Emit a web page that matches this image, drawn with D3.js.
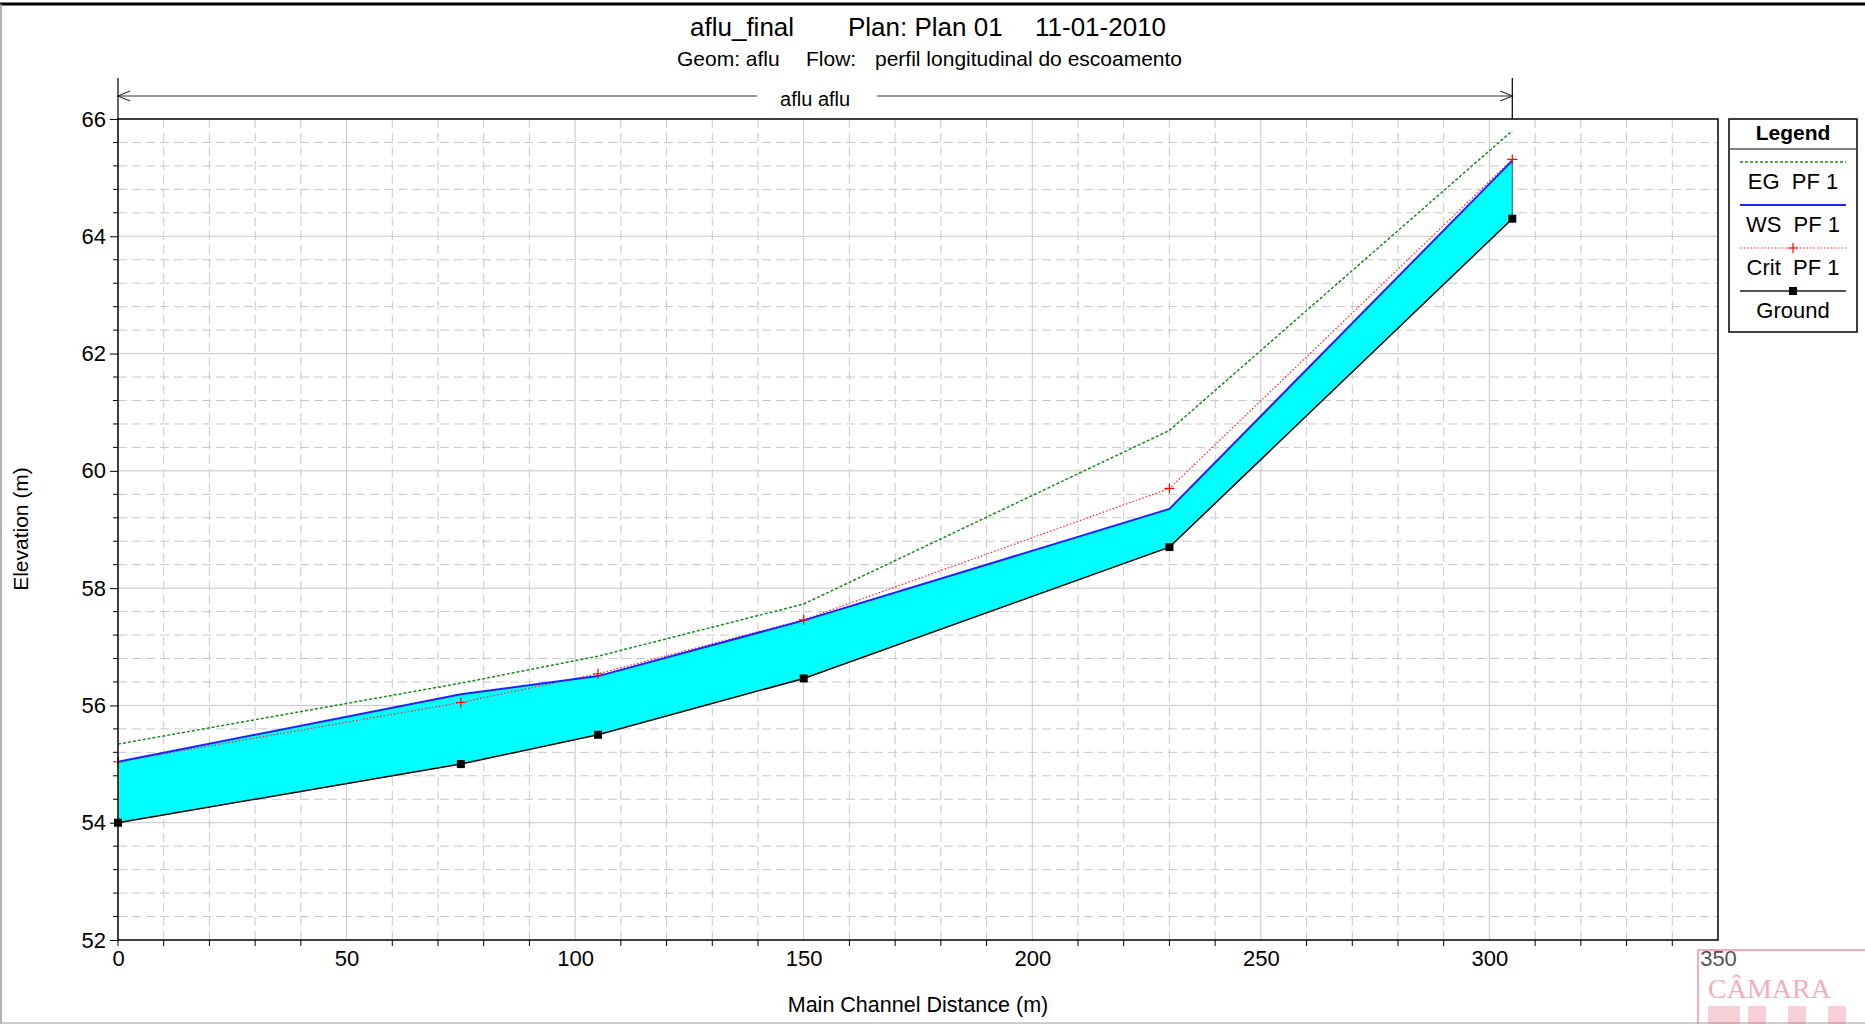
<!DOCTYPE html>
<html>
<head>
<meta charset="utf-8">
<script src="https://cdn.jsdelivr.net/npm/d3@7"></script>
<style>
  html, body { margin: 0; padding: 0; background: #fff; }
  svg { display: block; font-family: "Liberation Sans", Arial, sans-serif; }
  .pre { white-space: pre; }
</style>
</head>
<body>
<svg id="chart" width="1865" height="1024"></svg>
<script>
// stations along the main channel (m)
const stations = [0, 75, 105, 150, 230, 305];
// elevations (m)
const ground  = [54.0, 55.0, 55.5, 56.46, 58.7, 64.3];
const wsPF1   = [55.04, 56.19, 56.5, 57.45, 59.35, 65.29];
const critPF1 = [55.04, 56.05, 56.54, 57.46, 59.7, 65.31];
const egPF1   = [55.34, 56.38, 56.84, 57.73, 60.69, 65.8];

const xTicks = [0, 50, 100, 150, 200, 250, 300, 350];
const yTicks = [52, 54, 56, 58, 60, 62, 64, 66];
const legendItems = ["EG  PF 1", "WS  PF 1", "Crit  PF 1", "Ground"];

const svg = d3.select("#chart");
const pLeft = 118, pRight = 1718, pTop = 119, pBottom = 940;

const x = d3.scaleLinear().domain([0, 350]).range([pLeft, pRight]);
const y = d3.scaleLinear().domain([52, 66]).range([pBottom, pTop]);

// page frame
svg.append("line").attr("x1", 0).attr("x2", 1865).attr("y1", 4).attr("y2", 4)
  .attr("stroke", "#000").attr("stroke-width", 3);
svg.append("line").attr("x1", 1).attr("x2", 1).attr("y1", 4).attr("y2", 1024)
  .attr("stroke", "#999").attr("stroke-width", 1.5);
svg.append("line").attr("x1", 0).attr("x2", 1865).attr("y1", 1023).attr("y2", 1023)
  .attr("stroke", "#bbb").attr("stroke-width", 1.5);

// titles
const t1 = svg.append("text").attr("y", 36).attr("font-size", 26).attr("fill", "#000");
t1.append("tspan").attr("x", 690).text("aflu_final");
t1.append("tspan").attr("x", 848).text("Plan: Plan 01");
t1.append("tspan").attr("x", 1035).text("11-01-2010");
const t2 = svg.append("text").attr("y", 66).attr("font-size", 21).attr("fill", "#000");
t2.append("tspan").attr("x", 677).text("Geom: aflu");
t2.append("tspan").attr("x", 806).text("Flow:");
t2.append("tspan").attr("x", 875).text("perfil longitudinal do escoamento");

// grid
const g = svg.append("g");
const minorX = d3.range(0, 351, 10).filter(v => v % 50 !== 0);
const minorY = d3.range(0, 36).map(i => 52 + i * 0.4).filter((v, i) => i % 5 !== 0);
g.selectAll(".mx").data(minorX).join("line")
  .attr("x1", d => x(d)).attr("x2", d => x(d)).attr("y1", pTop).attr("y2", pBottom)
  .attr("stroke", "#c8c8c8").attr("stroke-dasharray", "9,5");
g.selectAll(".my").data(minorY).join("line")
  .attr("x1", pLeft).attr("x2", pRight).attr("y1", d => y(d)).attr("y2", d => y(d))
  .attr("stroke", "#c8c8c8").attr("stroke-dasharray", "9,5");
g.selectAll(".Mx").data(xTicks.slice(1, -1)).join("line")
  .attr("x1", d => x(d)).attr("x2", d => x(d)).attr("y1", pTop).attr("y2", pBottom)
  .attr("stroke", "#c8c8c8");
g.selectAll(".My").data(yTicks.slice(1, -1)).join("line")
  .attr("x1", pLeft).attr("x2", pRight).attr("y1", d => y(d)).attr("y2", d => y(d))
  .attr("stroke", "#c8c8c8");

// water area
const area = d3.area().x((d, i) => x(stations[i])).y0((d, i) => y(ground[i])).y1(d => y(d));
svg.append("path").datum(wsPF1).attr("d", area).attr("fill", "#00ffff").attr("stroke", "none");
svg.append("line")
  .attr("x1", x(stations[5])).attr("x2", x(stations[5]))
  .attr("y1", y(wsPF1[5])).attr("y2", y(ground[5]))
  .attr("stroke", "#555").attr("stroke-width", 1);

const line = d3.line().x((d, i) => x(stations[i])).y(d => y(d));
svg.append("path").datum(egPF1).attr("d", line).attr("fill", "none")
  .attr("stroke", "#1a8a1a").attr("stroke-width", 1.5).attr("stroke-dasharray", "3,2");
svg.append("path").datum(critPF1).attr("d", line).attr("fill", "none")
  .attr("stroke", "#ff2020").attr("stroke-width", 1.2).attr("stroke-dasharray", "1.5,2");
svg.append("path").datum(wsPF1).attr("d", line).attr("fill", "none")
  .attr("stroke", "#2222ff").attr("stroke-width", 2);
svg.append("path").datum(ground).attr("d", line).attr("fill", "none")
  .attr("stroke", "#000").attr("stroke-width", 1.5);

// markers
svg.selectAll(".crit").data(critPF1).join("path")
  .attr("transform", (d, i) => `translate(${x(stations[i])},${y(d)})`)
  .attr("d", "M-5,0H5M0,-5V5").attr("stroke", "#ff0000").attr("stroke-width", 1.2);
svg.selectAll(".gnd").data(ground).join("rect")
  .attr("x", (d, i) => x(stations[i]) - 4).attr("y", d => y(d) - 4)
  .attr("width", 8).attr("height", 8).attr("fill", "#000");

// reach label with arrows
const ry = 96;
const rg = svg.append("g").attr("stroke", "#333").attr("stroke-width", 1.2).attr("fill", "none");
rg.append("line").attr("x1", x(0)).attr("x2", 757).attr("y1", ry).attr("y2", ry);
rg.append("line").attr("x1", 877).attr("x2", x(305)).attr("y1", ry).attr("y2", ry);
rg.append("path").attr("d", `M${x(0) + 12},${ry - 5}L${x(0)},${ry}L${x(0) + 12},${ry + 5}`);
rg.append("path").attr("d", `M${x(305) - 12},${ry - 5}L${x(305)},${ry}L${x(305) - 12},${ry + 5}`);
rg.append("line").attr("x1", x(0)).attr("x2", x(0)).attr("y1", 78).attr("y2", pTop).attr("stroke", "#000");
rg.append("line").attr("x1", x(305)).attr("x2", x(305)).attr("y1", 78).attr("y2", pTop).attr("stroke", "#000");
svg.append("text").attr("x", (x(0) + x(305)) / 2).attr("y", 106).attr("text-anchor", "middle")
  .attr("font-size", 20).text("aflu aflu");

// frame
svg.append("rect").attr("x", pLeft).attr("y", pTop).attr("width", pRight - pLeft).attr("height", pBottom - pTop)
  .attr("fill", "none").attr("stroke", "#000").attr("stroke-width", 1.5);

// axes
const yAxis = svg.append("g").attr("transform", `translate(${pLeft},0)`)
  .call(d3.axisLeft(y).tickValues(yTicks).tickSize(8).tickPadding(4).tickFormat(d3.format("d")));
yAxis.select(".domain").remove();
yAxis.selectAll("text").attr("font-size", 22).attr("font-family", "Liberation Sans, Arial, sans-serif").attr("fill", "#000");
yAxis.selectAll("line").attr("stroke", "#000");
svg.append("g").selectAll("line").data(minorY).join("line")
  .attr("x1", pLeft - 5).attr("x2", pLeft).attr("y1", d => y(d)).attr("y2", d => y(d)).attr("stroke", "#000");

const xAxis = svg.append("g").attr("transform", `translate(0,${pBottom})`)
  .call(d3.axisBottom(x).tickValues(xTicks).tickSize(0).tickPadding(10).tickFormat(d3.format("d")));
xAxis.select(".domain").remove();
xAxis.selectAll("text").attr("font-size", 22).attr("font-family", "Liberation Sans, Arial, sans-serif").attr("fill", "#000");
xAxis.selectAll(".tick").filter(d => d === 350).select("text").attr("fill", "#555");
svg.append("g").selectAll("line").data(minorX.concat([0])).join("line")
  .attr("x1", d => x(d)).attr("x2", d => x(d)).attr("y1", pBottom).attr("y2", pBottom + 6).attr("stroke", "#000");

svg.append("text").attr("transform", `translate(28,529) rotate(-90)`).attr("text-anchor", "middle")
  .attr("font-size", 21).text("Elevation (m)");
svg.append("text").attr("x", 918).attr("y", 1012).attr("text-anchor", "middle")
  .attr("font-size", 21.5).text("Main Channel Distance (m)");

// legend
const lg = svg.append("g");
const lx = 1729, lw = 128;
lg.append("rect").attr("x", lx).attr("y", 119).attr("width", lw).attr("height", 213)
  .attr("fill", "#fff").attr("stroke", "#000").attr("stroke-width", 1.5);
lg.append("line").attr("x1", lx).attr("x2", lx + lw).attr("y1", 149).attr("y2", 149)
  .attr("stroke", "#555").attr("stroke-width", 1.5);
lg.append("text").attr("x", lx + lw / 2).attr("y", 140).attr("text-anchor", "middle")
  .attr("font-size", 21).attr("font-weight", "bold").text("Legend");
const legStyles = [
  { stroke: "#1a8a1a", dash: "3,2", w: 1.5 },
  { stroke: "#2222ff", dash: null, w: 2 },
  { stroke: "#ff2020", dash: "1.5,2", w: 1.2 },
  { stroke: "#555", dash: null, w: 2 }
];
legendItems.forEach((name, i) => {
  const ly = 162 + i * 43;
  const s = legStyles[i];
  lg.append("line").attr("x1", 1740).attr("x2", 1846).attr("y1", ly).attr("y2", ly)
    .attr("stroke", s.stroke).attr("stroke-width", s.w).attr("stroke-dasharray", s.dash);
  if (i === 2) lg.append("path").attr("d", `M1788,${ly}H1798M1793,${ly - 5}V${ly + 5}`)
    .attr("stroke", "#ff0000").attr("stroke-width", 1.2);
  if (i === 3) lg.append("rect").attr("x", 1789).attr("y", ly - 4).attr("width", 8).attr("height", 8).attr("fill", "#000");
  lg.append("text").attr("class", "pre").attr("x", lx + lw / 2).attr("y", ly + 27)
    .attr("text-anchor", "middle").attr("font-size", 22).text(name);
});

// scanned stamp in the corner
const st = svg.append("g").attr("opacity", 0.5);
st.append("rect").attr("x", 1698).attr("y", 950).attr("width", 200).attr("height", 100)
  .attr("fill", "none").attr("stroke", "#e8607a").attr("stroke-width", 2);
st.append("text").attr("x", 1708).attr("y", 998).attr("font-family", "Liberation Serif, serif")
  .attr("font-size", 28).attr("fill", "#e8607a").text("CÂMARA");
st.selectAll(".blk").data([0, 1, 2, 3]).join("rect")
  .attr("x", d => 1708 + d * 40).attr("y", 1006).attr("width", d => d === 0 ? 32 : 18).attr("height", 18)
  .attr("fill", "#e8607a").attr("opacity", 0.6);
</script>
</body>
</html>
